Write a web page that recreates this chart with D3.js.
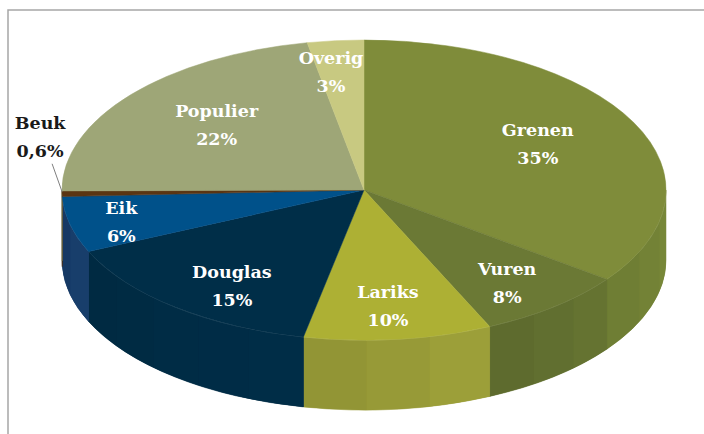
<!DOCTYPE html>
<html>
<head>
<meta charset="utf-8">
<script src="https://cdn.jsdelivr.net/npm/d3@7"></script>
<style>
  body { margin: 0; background: #fff; }
  svg { display: block; }
  .lbl { font-family: "DejaVu Serif", serif; font-weight: bold; font-size: 17.5px; }
</style>
</head>
<body>
<div id="chart"></div>
<script>
// share of each tree species (percent)
const species = ["Grenen", "Vuren", "Lariks", "Douglas", "Eik", "Beuk", "Populier", "Overig"];
const shares = [35, 8, 10, 15, 6, 0.6, 22, 3];
const shareLabels = ["35%", "8%", "10%", "15%", "6%", "0,6%", "22%", "3%"];

const topColors = {
    Grenen: "#7f8c3a", Vuren: "#6b7935", Lariks: "#adb034", Douglas: "#002e48",
    Eik: "#00518a", Beuk: "#5a3512", Populier: "#9ea677", Overig: "#c8c981"
};
const sideColors = {
    Grenen: "#748336", Vuren: "#627030", Lariks: "#989b37", Douglas: "#002c45",
    Eik: "#173c68", Beuk: "#4a2c10", Populier: "#8c956a", Overig: "#b3b473"
};
// small label nudges so text sits like in the original
const nudge = {
    Grenen: [-15, 7], Vuren: [10, 2], Lariks: [0, 0], Douglas: [0, 5],
    Eik: [-37, 5], Populier: [16, 9], Overig: [-13, -2]
};

const width = 704, height = 434;
const cx = 364, cy = 190, rx = 302, ry = 150, depth = 70;

const svg = d3.select("#chart").append("svg")
    .attr("width", width)
    .attr("height", height);

// chart frame
svg.append("path")
    .attr("d", `M8,${height}V10H${width}`)
    .attr("fill", "none")
    .attr("stroke", "#a6a6a6")
    .attr("stroke-width", 1.5);

const rows = species.map((s, i) => ({ name: s, value: shares[i], label: shareLabels[i] }));
const pie = d3.pie().sort(null).value(d => d.value);
const arcs = pie(rows);

function pt(a, dy = 0) {
    return [cx + rx * Math.sin(a), cy - ry * Math.cos(a) + dy];
}

function wall(t0, t1) {
    const a = pt(t0), b = pt(t1), c = pt(t1, depth), e = pt(t0, depth);
    return `M${a}A${rx},${ry} 0 0 1 ${b}L${c}A${rx},${ry} 0 0 0 ${e}Z`;
}

// side walls (only the front half is visible)
const sideLayer = svg.append("g");
arcs.forEach(d => {
    const s0 = Math.max(d.startAngle, Math.PI / 2);
    const s1 = Math.min(d.endAngle, 3 * Math.PI / 2);
    if (s1 <= s0) return;
    const base = d3.color(sideColors[d.data.name]);
    sideLayer.append("path")
        .attr("d", wall(s0, s1))
        .attr("fill", base)
        .attr("stroke", base)
        .attr("stroke-width", 0.5);
    const n = Math.max(1, Math.ceil((s1 - s0) / (Math.PI / 14)));
    const shade = d3.interpolateRgb(base.darker(0.12), base.brighter(0.08));
    for (let k = 0; k < n; k++) {
        const t0 = s0 + (s1 - s0) * k / n;
        const t1 = s0 + (s1 - s0) * (k + 1) / n;
        // left of screen is drawn darker
        sideLayer.append("path")
            .attr("d", wall(t0, t1))
            .attr("fill", shade(n === 1 ? 0.5 : 1 - k / (n - 1)));
    }
    // faint highlight on the rim
    sideLayer.append("path")
        .attr("d", `M${pt(s0)}A${rx},${ry} 0 0 1 ${pt(s1)}`)
        .attr("fill", "none")
        .attr("stroke", "#ffffff")
        .attr("stroke-opacity", 0.25)
        .attr("stroke-width", 0.8);
});

// top faces
svg.append("g").selectAll("path")
    .data(arcs)
    .join("path")
    .attr("d", d => {
        const p0 = pt(d.startAngle), p1 = pt(d.endAngle);
        const large = d.endAngle - d.startAngle > Math.PI ? 1 : 0;
        return `M${cx},${cy}L${p0}A${rx},${ry} 0 ${large} 1 ${p1}Z`;
    })
    .attr("fill", d => topColors[d.data.name])
    .attr("stroke", d => topColors[d.data.name])
    .attr("stroke-width", 0.5);

// labels
const labelLayer = svg.append("g");
arcs.forEach(d => {
    const mid = (d.startAngle + d.endAngle) / 2;
    let x, y, fill;
    if (d.data.name === "Beuk") {
        const rim = pt(mid);
        x = rim[0] - 22; y = rim[1] - 57; fill = "#1a1a1a";
        labelLayer.append("line")
            .attr("x1", x + 12).attr("y1", y + 27)
            .attr("x2", rim[0]).attr("y2", rim[1] - 2)
            .attr("stroke", "#7f7f7f")
            .attr("stroke-width", 1);
    } else {
        const off = nudge[d.data.name];
        x = cx + rx * 0.7 * Math.sin(mid) + off[0];
        y = cy - ry * 0.78 * Math.cos(mid) + off[1];
        fill = "#ffffff";
    }
    const t = labelLayer.append("text")
        .attr("class", "lbl")
        .attr("text-anchor", "middle")
        .attr("fill", fill);
    t.append("tspan").attr("x", x).attr("y", y - 8).text(d.data.name);
    t.append("tspan").attr("x", x).attr("y", y + 20).text(d.data.label);
});
</script>
</body>
</html>
